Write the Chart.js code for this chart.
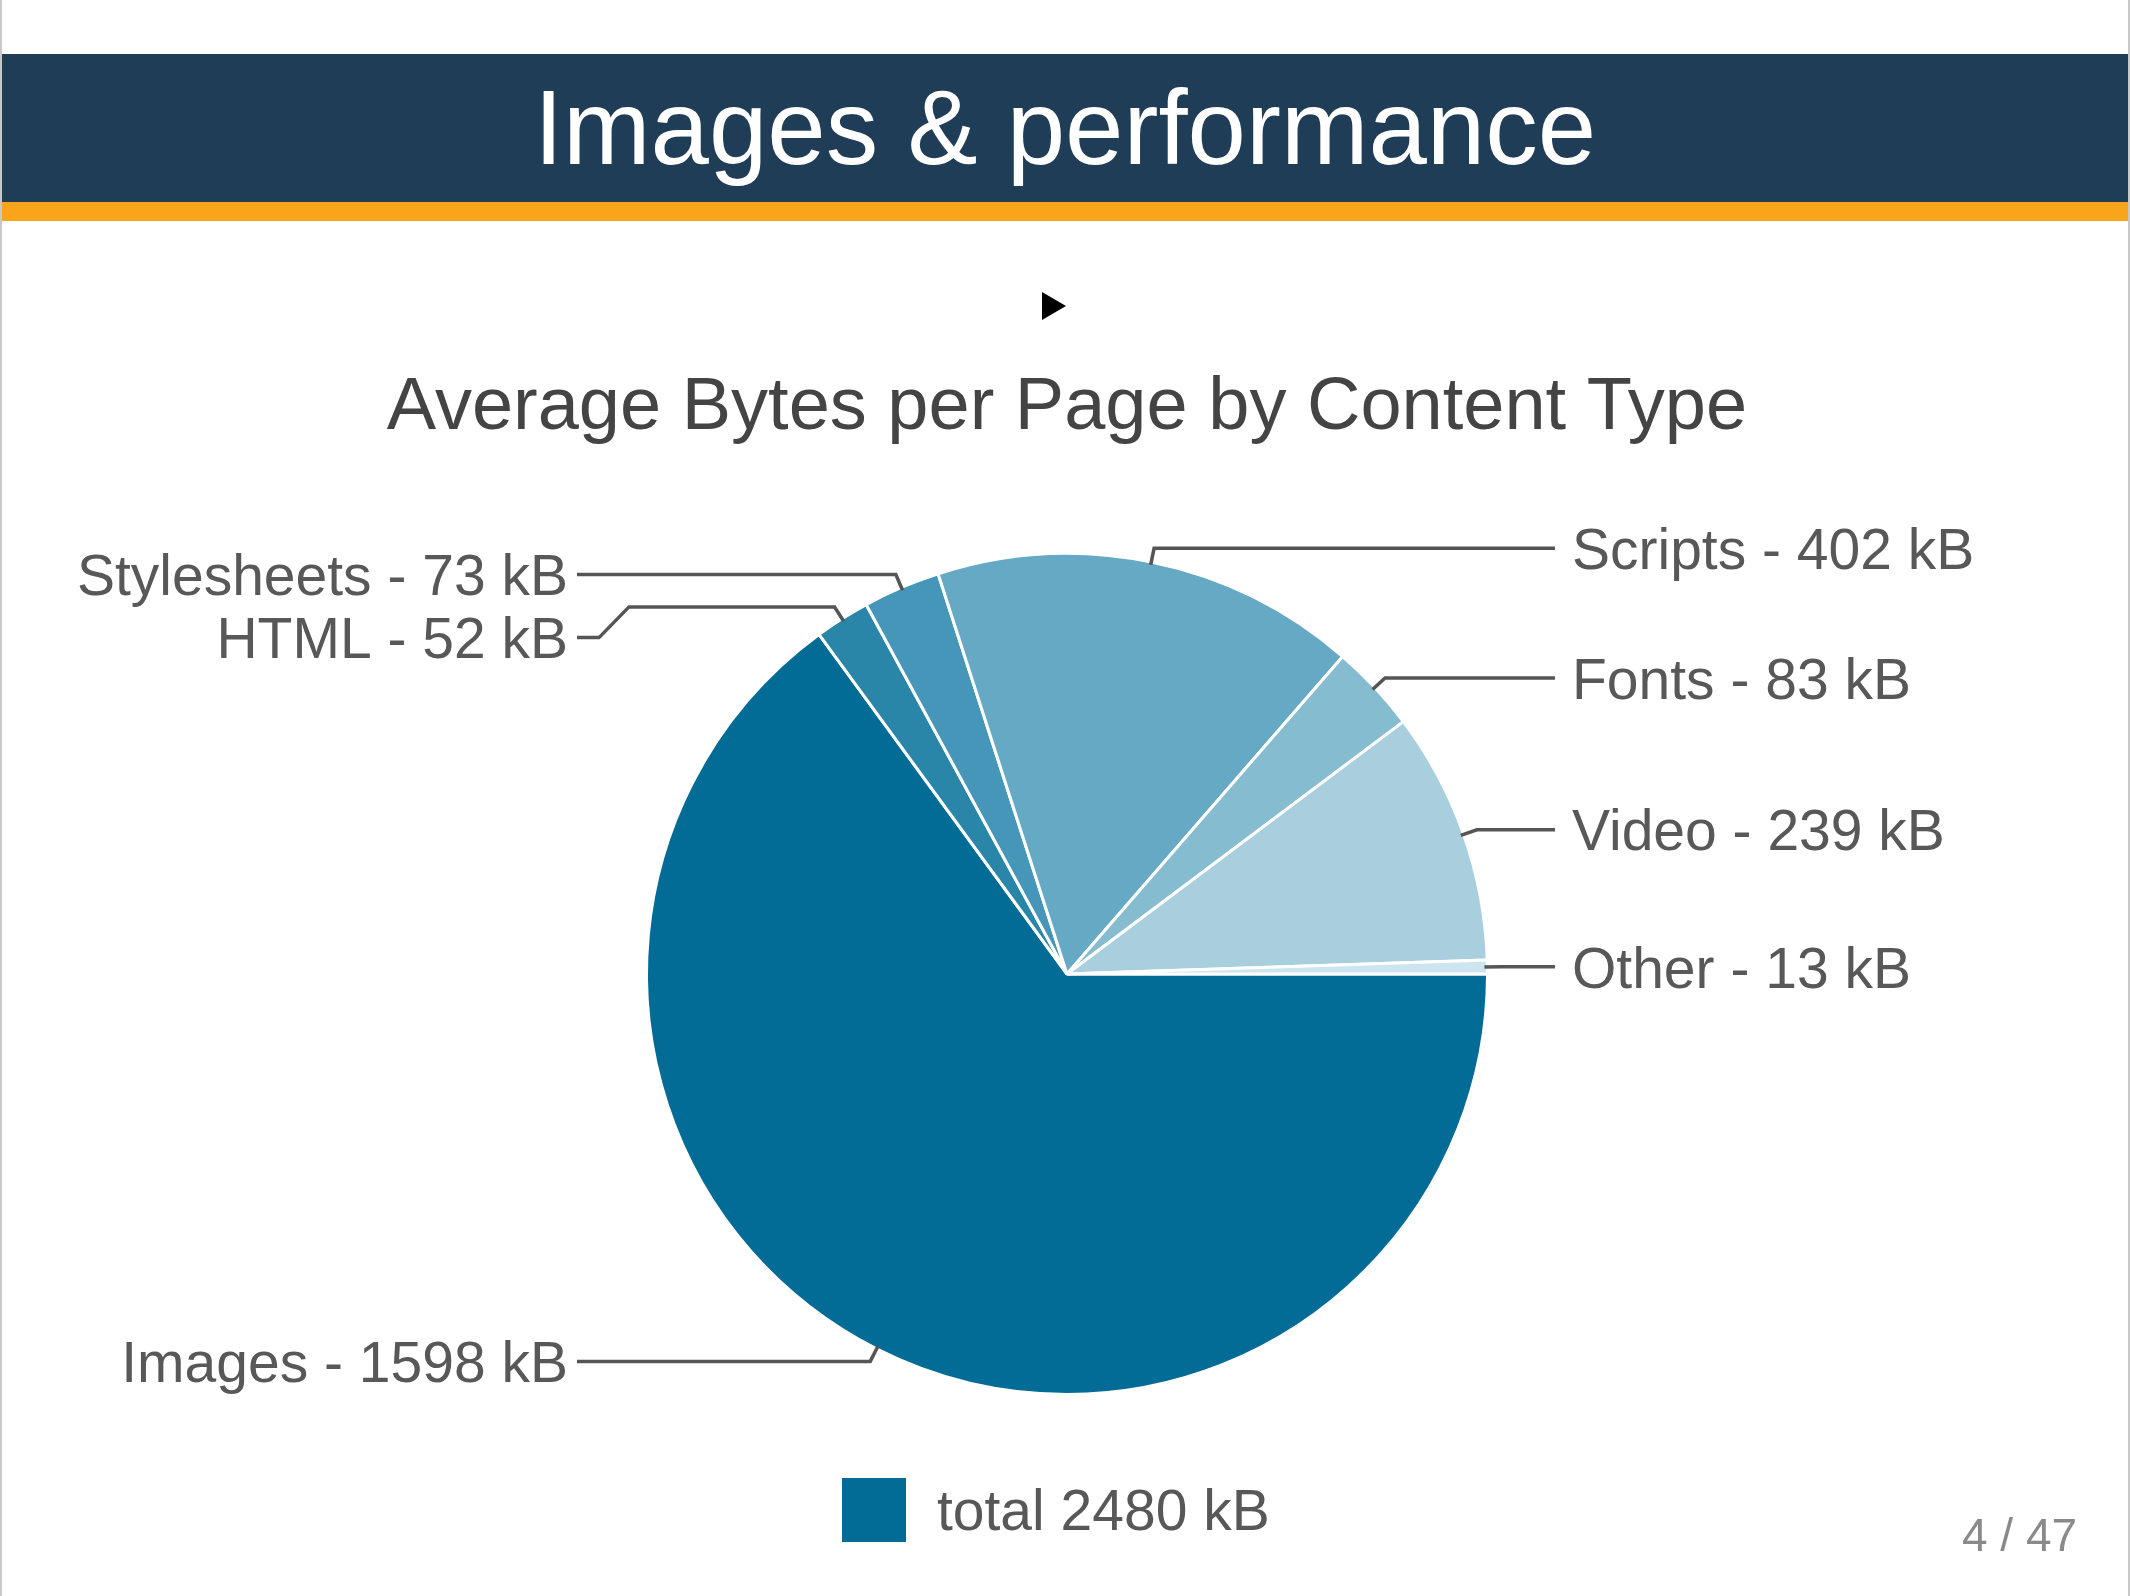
<!DOCTYPE html>
<html>
<head>
<meta charset="utf-8">
<script src="https://cdn.jsdelivr.net/npm/chart.js@4/dist/chart.umd.min.js"></script>
<style>
  html, body { margin: 0; padding: 0; background: #fff; }
  body { width: 2130px; height: 1596px; position: relative; overflow: hidden; font-family: "Liberation Sans", Arial, sans-serif; }
  #frame { position: absolute; left: 0; top: 0; width: 2126px; height: 1596px; border-left: 2px solid #c8c8c8; border-right: 2px solid #c8c8c8; pointer-events: none; }
  #band { position: absolute; left: 2px; right: 2px; top: 54px; height: 148px; background: #1f3d57; }
  #stripe { position: absolute; left: 2px; right: 2px; top: 202px; height: 19px; background: #f9a51c; }
  #slideTitle { position: absolute; left: 0; width: 2130px; top: 54px; height: 148px; line-height: 148px; text-align: center; color: #fff; font-size: 105px; font-family: "Liberation Sans", Arial, sans-serif; }
  #play { position: absolute; left: 1042px; top: 292px; width: 0; height: 0; border-top: 14px solid transparent; border-bottom: 14px solid transparent; border-left: 24px solid #000; }
  #pageNum { position: absolute; left: 1962px; top: 1508px; font-size: 46px; color: #8a8a8a; font-family: "Liberation Sans", Arial, sans-serif; }
  #wrap { position: absolute; left: 0; top: 0; width: 2130px; height: 1596px; }
</style>
</head>
<body>
<div id="wrap"><canvas id="c" width="2130" height="1596"></canvas></div>
<div id="band"></div>
<div id="stripe"></div>
<div id="slideTitle">Images &amp; performance</div>
<div id="play"></div>
<div id="pageNum">4 / 47</div>
<div id="frame"></div>
<script>
const chartTitle = "Average Bytes per Page by Content Type";
const categories = ["Images", "HTML", "Stylesheets", "Scripts", "Fonts", "Video", "Other"];
const valuesKB = [1598, 52, 73, 402, 83, 239, 13];
const sliceColors = ["#036c96", "#2a86a8", "#4596b8", "#66a9c5", "#86bcd0", "#a9cfdf", "#cde5ee"];
const legendText = "total 2480 kB";
const unit = "kB";

const labelPlugin = {
  id: 'outsideLabels',
  afterDatasetsDraw(chart) {
    const ctx = chart.ctx;
    const meta = chart.getDatasetMeta(0);
    const ca = chart.chartArea;
    const cx = (ca.left + ca.right) / 2;
    const items = [];
    meta.data.forEach((arc, i) => {
      const p = arc.getProps(['startAngle', 'endAngle', 'outerRadius', 'x', 'y'], true);
      const a = (p.startAngle + p.endAngle) / 2;
      const r = p.outerRadius;
      const p0 = { x: p.x + Math.cos(a) * (r - 3), y: p.y + Math.sin(a) * (r - 3) };
      const p1 = { x: p.x + Math.cos(a) * (r + 14), y: p.y + Math.sin(a) * (r + 14) };
      const right = Math.cos(a) >= 0;
      items.push({ i, p0, p1, right, natY: p1.y, text: categories[i] + " - " + valuesKB[i] + " " + unit });
    });
    const gap = 63;
    ['L', 'R'].forEach(side => {
      const grp = items.filter(it => (side === 'R') === it.right).sort((a, b) => a.natY - b.natY);
      let prev = -Infinity;
      grp.forEach(it => { it.ly = Math.max(it.natY, prev + gap); prev = it.ly; });
    });
    const rightEnd = cx + 488;
    const leftEnd = cx - 490;
    ctx.save();
    ctx.strokeStyle = '#555';
    ctx.lineWidth = 3.5;
    ctx.lineJoin = 'miter';
    ctx.font = '57px "Liberation Sans", Arial, sans-serif';
    ctx.fillStyle = '#585858';
    ctx.textBaseline = 'middle';
    items.forEach(it => {
      ctx.beginPath();
      ctx.moveTo(it.p0.x, it.p0.y);
      ctx.lineTo(it.p1.x, it.p1.y);
      if (it.right) {
        if (Math.abs(it.ly - it.natY) > 1) {
          ctx.lineTo(rightEnd - 36, it.p1.y);
          ctx.lineTo(rightEnd - 12, it.ly);
        }
        ctx.lineTo(rightEnd, it.ly);
        ctx.stroke();
        ctx.textAlign = 'left';
        ctx.fillText(it.text, rightEnd + 17, it.ly + 5);
      } else {
        if (Math.abs(it.ly - it.natY) > 1) {
          ctx.lineTo(leftEnd + 52, it.p1.y);
          ctx.lineTo(leftEnd + 22, it.ly);
        }
        ctx.lineTo(leftEnd, it.ly);
        ctx.stroke();
        ctx.textAlign = 'right';
        ctx.fillText(it.text, leftEnd - 9, it.ly + 5);
      }
    });
    ctx.font = '74px "Liberation Sans", Arial, sans-serif';
    ctx.fillStyle = '#444';
    ctx.textAlign = 'center';
    ctx.textBaseline = 'alphabetic';
    ctx.fillText(chartTitle, cx, 429);
    ctx.fillStyle = sliceColors[0];
    ctx.fillRect(842, 1478, 64, 64);
    ctx.font = '57px "Liberation Sans", Arial, sans-serif';
    ctx.fillStyle = '#585858';
    ctx.textAlign = 'left';
    ctx.textBaseline = 'middle';
    ctx.fillText(legendText, 937, 1514);
    ctx.restore();
  }
};

new Chart(document.getElementById('c'), {
  type: 'pie',
  data: {
    labels: categories,
    datasets: [{
      data: valuesKB,
      backgroundColor: sliceColors,
      borderColor: '#ffffff',
      borderWidth: 3,
      hoverOffset: 0
    }]
  },
  options: {
    responsive: false,
    animation: false,
    rotation: 90,
    layout: { padding: { left: 645, right: 641, top: 552, bottom: 200 } },
    plugins: {
      legend: { display: false },
      title: { display: false },
      tooltip: { enabled: false }
    }
  },
  plugins: [labelPlugin]
});
</script>
</body>
</html>
